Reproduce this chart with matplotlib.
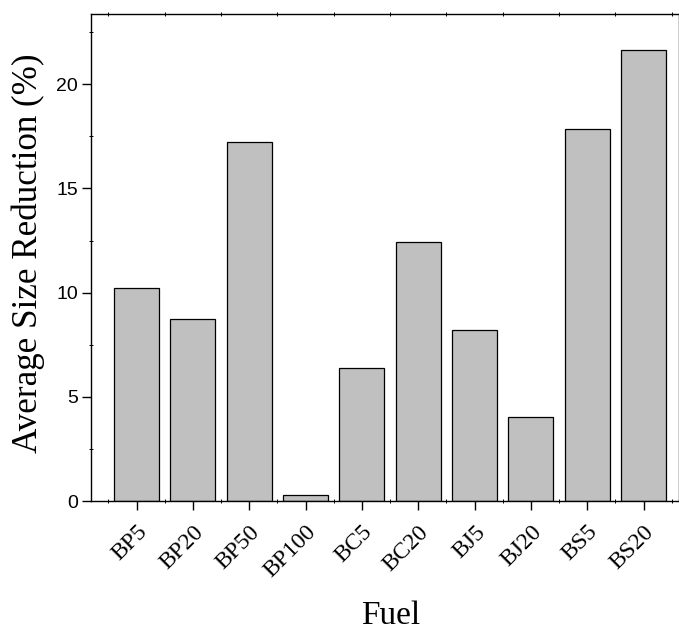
"""Bar chart of average size reduction per fuel blend."""

import matplotlib

matplotlib.use("Agg")
import matplotlib.pyplot as plt
import matplotlib.transforms as mtransforms
import numpy as np
from matplotlib.ticker import MultipleLocator

fuels = ["BP5", "BP20", "BP50", "BP100", "BC5", "BC20", "BJ5", "BJ20", "BS5", "BS20"]
reduction = [10.23, 8.74, 17.22, 0.32, 6.39, 12.42, 8.20, 4.04, 17.86, 21.62]

serif = ["Liberation Serif", "DejaVu Serif"]
sans = ["Liberation Sans", "DejaVu Sans"]


def main():
    fig = plt.figure(figsize=(6.79, 6.33), dpi=100)
    ax = fig.add_axes([91 / 679, 1 - 501.3 / 633, 1 - 91 / 679, (501.3 - 14) / 633])

    x = np.arange(len(fuels))
    ax.bar(x, reduction, width=0.8, color="#c0c0c0", edgecolor="black", linewidth=0.9)

    ax.set_xlim(-0.81, 9.63)
    ax.set_ylim(0, 23.36)

    ax.set_xticks(x)
    ax.set_xticklabels(fuels, family=serif, fontsize=17, rotation=45,
                       ha="right", va="top", rotation_mode="anchor")
    shift = mtransforms.ScaledTranslation(-3 / 100, -2 / 100, fig.dpi_scale_trans)
    for lbl in ax.get_xticklabels():
        lbl.set_transform(lbl.get_transform() + shift)
    ax.xaxis.set_minor_locator(MultipleLocator(0.5))

    ax.yaxis.set_major_locator(MultipleLocator(5))
    ax.yaxis.set_minor_locator(MultipleLocator(2.5))
    for lbl in ax.get_yticklabels():
        lbl.set_family(sans)
        lbl.set_fontsize(14)

    ax.tick_params(axis="both", which="major", direction="out", length=6.5, width=1.0)
    ax.tick_params(axis="both", which="minor", direction="inout", length=2.5, width=0.7)
    ax.tick_params(axis="y", which="major", pad=3)
    ax.tick_params(axis="x", which="major", top=False, pad=8)
    ax.tick_params(axis="x", which="minor", top=True)

    for spine in ax.spines.values():
        spine.set_linewidth(1.0)

    ax.set_xlabel("Fuel", family=serif, fontsize=24)
    ax.set_ylabel("Average Size Reduction (%)", family=serif, fontsize=25.2)
    ax.xaxis.set_label_coords(0.51, -0.252)
    ax.yaxis.set_label_coords(-0.107, 0.51)
    ax.xaxis.label.set_va("baseline")
    ax.yaxis.label.set_va("center")

    fig.savefig("out.png", dpi=100)
    plt.close(fig)


if __name__ == "__main__":
    main()
